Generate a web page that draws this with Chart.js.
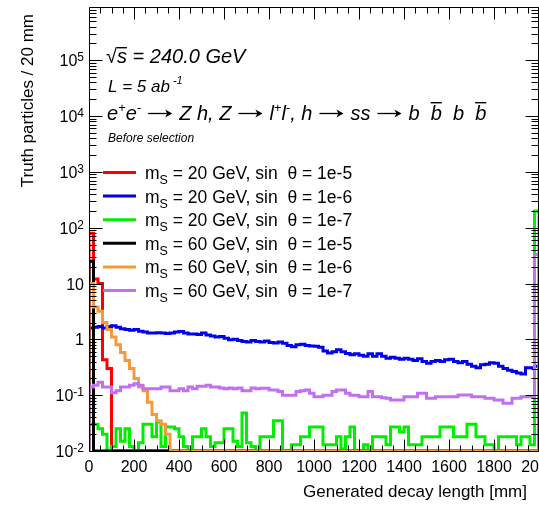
<!DOCTYPE html>
<html><head><meta charset="utf-8">
<script src="https://cdn.jsdelivr.net/npm/chart.js@4/dist/chart.umd.min.js"></script>
<style>html,body{margin:0;padding:0;background:#fff;overflow:hidden}#wrap{width:539px;height:505px;position:relative}</style>
</head><body><div id="wrap"><canvas id="c" width="539" height="505"></canvas></div>
<script>
// ---------- data ----------
const binWidthMM = 20;
const xRange = [0, 2000];
const yRange = [0.01, 9e5];
const xMajorStep = 200, xMinorStep = 50;
const xTickValues = [0,200,400,600,800,1000,1200,1400,1600,1800,2000];
const xTickLabels = ['0','200','400','600','800','1000','1200','1400','1600','1800','2000'];
const yTickValues = [1e-2,1e-1,1,10,1e2,1e3,1e4,1e5];
const yTickBases  = ['10','10','1','10','10','10','10','10'];
const yTickExps   = ['-2','-1','','','2','3','4','5'];
const xTitle = 'Generated decay length [mm]';
const yTitle = 'Truth particles / 20 mm';

const seriesMassGeV = [20, 20, 20, 60, 60, 60];
const seriesSinTheta = ['1e-5', '1e-6', '1e-7', '1e-5', '1e-6', '1e-7'];
const seriesColors = ['#ff0000', '#0000ee', '#00ee00', '#000000', '#f7993a', '#c070f0'];

// 100 bins of 20 mm (0 = empty bin)
const m20_s1e5 = [
 80,12,10,0.43,0.3,0,0,0,0,0,
 0,0,0,0,0,0,0,0,0,0, 0,0,0,0,0,0,0,0,0,0,
 0,0,0,0,0,0,0,0,0,0, 0,0,0,0,0,0,0,0,0,0,
 0,0,0,0,0,0,0,0,0,0, 0,0,0,0,0,0,0,0,0,0,
 0,0,0,0,0,0,0,0,0,0, 0,0,0,0,0,0,0,0,0,0,
 0,0,0,0,0,0,0,0,0,0];
const m20_s1e6 = [
 1.6,1.65,1.7,1.6,1.7,1.75,1.65,1.55,1.5,1.45,
 1.5,1.4,1.35,1.3,1.3,1.32,1.3,1.28,1.3,1.35,
 1.38,1.3,1.25,1.25,1.22,1.3,1.2,1.15,1.1,1.12,
 1.05,0.98,1.0,0.95,0.92,0.9,0.95,0.92,0.9,0.93,
 0.88,0.86,0.9,0.85,0.78,0.74,0.8,0.82,0.78,0.76,
 0.75,0.72,0.62,0.57,0.6,0.65,0.6,0.56,0.53,0.55,
 0.52,0.5,0.55,0.5,0.55,0.5,0.46,0.48,0.46,0.44,
 0.46,0.44,0.42,0.45,0.4,0.375,0.4,0.42,0.4,0.43,
 0.44,0.4,0.38,0.4,0.36,0.33,0.31,0.35,0.36,0.38,
 0.375,0.33,0.3,0.28,0.265,0.25,0.24,0.31,0.31,0.33];
const m20_s1e7 = [
 0.03,0.03,0.025,0.02,0,0.012,0.025,0.015,0.025,0.012,
 0,0.014,0.03,0.03,0.018,0.033,0.012,0.027,0.027,0.025,
 0.018,0.012,0,0.018,0.018,0.025,0.018,0.012,0.014,0.014,
 0.025,0.025,0.015,0.012,0.048,0.014,0.012,0,0.018,0.018,
 0.018,0.035,0.035,0,0,0.013,0.013,0.018,0.018,0.027,
 0.027,0.027,0.013,0.013,0.013,0.018,0.011,0.018,0.027,0,
 0,0.013,0,0.018,0.018,0.018,0.013,0.027,0.027,0.022,
 0.027,0.013,0.013,0.013,0.018,0.018,0.018,0.018,0.027,0.027,
 0.027,0.018,0.018,0.018,0.03,0.03,0.018,0.018,0.013,0.013,
 0,0.018,0.018,0.018,0.018,0.013,0.018,0.018,0.013,200];
const m60_s1e5 = [
 25,0,0,0,0,0,0,0,0,0,
 0,0,0,0,0,0,0,0,0,0, 0,0,0,0,0,0,0,0,0,0,
 0,0,0,0,0,0,0,0,0,0, 0,0,0,0,0,0,0,0,0,0,
 0,0,0,0,0,0,0,0,0,0, 0,0,0,0,0,0,0,0,0,0,
 0,0,0,0,0,0,0,0,0,0, 0,0,0,0,0,0,0,0,0,0,
 0,0,0,0,0,0,0,0,0,0];
const m60_s1e6 = [
 10,3.8,3.2,2.0,1.5,1.1,0.8,0.58,0.42,0.3,
 0.2,0.14,0.12,0.075,0.045,0.035,0.03,0.02,0,0,
 0,0,0,0,0,0,0,0,0,0, 0,0,0,0,0,0,0,0,0,0,
 0,0,0,0,0,0,0,0,0,0, 0,0,0,0,0,0,0,0,0,0,
 0,0,0,0,0,0,0,0,0,0, 0,0,0,0,0,0,0,0,0,0,
 0,0,0,0,0,0,0,0,0,0, 0,0,0,0,0,0,0,0,0,0];
const m60_s1e7 = [
 0.14,0.15,0.17,0.14,0.14,0.11,0.12,0.14,0.14,0.15,
 0.16,0.15,0.13,0.13,0.13,0.13,0.14,0.14,0.12,0.12,
 0.13,0.12,0.14,0.13,0.145,0.145,0.15,0.14,0.14,0.135,
 0.13,0.135,0.13,0.135,0.12,0.12,0.135,0.13,0.133,0.133,
 0.124,0.124,0.116,0.1,0.1,0.1,0.116,0.12,0.124,0.108,
 0.094,0.094,0.1,0.1,0.116,0.124,0.124,0.108,0.1,0.1,
 0.094,0.094,0.116,0.094,0.094,0.09,0.088,0.082,0.082,0.082,
 0.094,0.094,0.094,0.108,0.108,0.088,0.088,0.094,0.094,0.094,
 0.094,0.094,0.101,0.101,0.101,0.094,0.094,0.094,0.088,0.088,
 0.082,0.082,0.072,0.072,0.088,0.088,0.094,0.094,0.094,33];

const seriesValues = [m20_s1e5, m20_s1e6, m20_s1e7, m60_s1e5, m60_s1e6, m60_s1e7];

// ---------- build ----------
const FF = '"Liberation Sans", Arial, Helvetica, sans-serif';
function histPoints(values) {
  const floor = yRange[0];
  const pts = [{x: xRange[0], y: floor}];
  values.forEach((v, i) => pts.push({x: xRange[0] + i * binWidthMM, y: v > 0 ? v : floor}));
  const last = values[values.length - 1];
  const xEnd = xRange[0] + values.length * binWidthMM;
  pts.push({x: xEnd, y: last > 0 ? last : floor});
  pts.push({x: xEnd, y: floor});
  return pts;
}
const datasets = seriesValues.map((vals, k) => ({
  label: 'm_S = ' + seriesMassGeV[k] + ' GeV, sin θ = ' + seriesSinTheta[k],
  data: histPoints(vals),
  borderColor: seriesColors[k],
  backgroundColor: seriesColors[k],
  borderWidth: 3,
  stepped: true,
  fill: false,
  pointRadius: 0,
  tension: 0,
  borderJoinStyle: 'miter',
  borderCapStyle: 'butt',
  order: seriesValues.length - 1 - k
}));

function rich(ctx, x, y, parts) {
  for (const p of parts) {
    if (p.arrow) {
      const x0 = x + p.pad, x1 = x0 + p.arrow, ay = y - 6.5;
      ctx.save();
      ctx.strokeStyle = '#000'; ctx.lineWidth = 1.3;
      ctx.beginPath(); ctx.moveTo(x0, ay); ctx.lineTo(x1 - 1, ay); ctx.stroke();
      ctx.beginPath(); ctx.moveTo(x1, ay); ctx.lineTo(x1 - 7, ay - 4); ctx.lineTo(x1 - 5, ay); ctx.lineTo(x1 - 7, ay + 4); ctx.closePath(); ctx.fill();
      ctx.restore();
      x = x1 + p.pad;
      continue;
    }
    ctx.font = p.f;
    const w = ctx.measureText(p.t).width;
    ctx.fillText(p.t, x, y + (p.dy || 0));
    if (p.bar) ctx.fillRect(x + (p.b0 || 0), y - p.bar, w - (p.b0 || 0) - (p.b1 || 0), 1.4);
    x += w + (p.gap || 0);
  }
  return x;
}

const rootPlugin = {
  id: 'rootStyle',
  beforeDraw(chart) {
    const c = chart.ctx; c.save(); c.fillStyle = '#fff'; c.fillRect(0, 0, chart.width, chart.height); c.restore();
  },
  afterDatasetsDraw(chart) {
    const {ctx, chartArea: a, scales: {x, y}} = chart;
    ctx.save();
    ctx.strokeStyle = '#000'; ctx.lineWidth = 1;
    ctx.beginPath();
    const L = Math.round(a.left) + 0.5, R = Math.round(a.right) - 0.5, T = Math.round(a.top) + 0.5, B = Math.round(a.bottom) + 0.5;
    ctx.rect(L, T, R - L, B - T);
    for (let v = xRange[0]; v <= xRange[1]; v += xMinorStep) {
      const px = Math.round(x.getPixelForValue(v)) + 0.5;
      const len = v % xMajorStep === 0 ? 12 : 6;
      ctx.moveTo(px, B); ctx.lineTo(px, B - len);
      ctx.moveTo(px, T); ctx.lineTo(px, T + len);
    }
    for (let e = -2; e <= 6; e++) for (let m = 1; m <= 9; m++) {
      const v = m * Math.pow(10, e);
      if (v < yRange[0] || v > yRange[1]) continue;
      const py = Math.round(y.getPixelForValue(v)) + 0.5;
      const len = m === 1 ? 13 : 7;
      ctx.moveTo(L, py); ctx.lineTo(L + len, py);
      ctx.moveTo(R, py); ctx.lineTo(R - len, py);
    }
    ctx.stroke();
    ctx.restore();
  },
  afterDraw(chart) {
    const {ctx, chartArea: a, scales: {x, y}} = chart;
    ctx.save();
    ctx.fillStyle = '#000';
    // x tick labels
    ctx.font = '16px ' + FF; ctx.textAlign = 'center'; ctx.textBaseline = 'alphabetic';
    xTickValues.forEach((v, i) => ctx.fillText(xTickLabels[i], x.getPixelForValue(v), 472));
    // y tick labels
    ctx.textAlign = 'left';
    yTickValues.forEach((v, i) => {
      const py = y.getPixelForValue(v);
      ctx.font = '12px ' + FF; const ew = yTickExps[i] ? ctx.measureText(yTickExps[i]).width : 0;
      ctx.font = '16px ' + FF; const bw = ctx.measureText(yTickBases[i]).width;
      const x0 = 84 - ew - bw;
      ctx.fillText(yTickBases[i], x0, py + 6);
      if (yTickExps[i]) { ctx.font = '12px ' + FF; ctx.fillText(yTickExps[i], x0 + bw, py + 1); }
    });
    // axis titles
    ctx.font = '17px ' + FF;
    ctx.textAlign = 'right';
    ctx.fillText(xTitle, 527, 497);
    ctx.save(); ctx.translate(28, 14); ctx.rotate(-Math.PI / 2);
    ctx.textBaseline = 'middle'; ctx.fillText(yTitle, 0, 0); ctx.restore();
    // annotations
    ctx.textAlign = 'left'; ctx.textBaseline = 'alphabetic';
    const I20 = 'italic 20px ' + FF, R20 = '20px ' + FF, S13 = 'italic 13px ' + FF;
    const ARROW = {arrow: 24, pad: 7};
    rich(ctx, 106, 63, [
      {t: '√', f: R20},
      {t: 's', f: I20, bar: 16},
      {t: ' = 240.0 GeV', f: I20}
    ]);
    rich(ctx, 108, 92, [
      {t: 'L = 5 ab', f: 'italic 17px ' + FF, gap: 3},
      {t: '-1', f: 'italic 11px ' + FF, dy: -8}
    ]);
    rich(ctx, 107, 120, [
      {t: 'e', f: I20}, {t: '+', f: S13, dy: -8},
      {t: 'e', f: I20}, {t: '-', f: S13, dy: -8},
      ARROW,
      {t: 'Z h, Z', f: I20},
      ARROW,
      {t: 'l', f: I20}, {t: '+', f: S13, dy: -8},
      {t: 'l', f: I20}, {t: '-', f: S13, dy: -8},
      {t: ', h', f: I20},
      ARROW,
      {t: 'ss', f: I20},
      ARROW,
      {t: 'b  ', f: I20},
      {t: 'b', f: I20, bar: 18},
      {t: '  b  ', f: I20},
      {t: 'b', f: I20, bar: 18}
    ]);
    ctx.font = 'italic 12px ' + FF;
    ctx.fillText('Before selection', 108, 142);
    // legend
    seriesValues.forEach((vals, k) => {
      const cy = 172.5 + k * 23.6;
      ctx.strokeStyle = seriesColors[k]; ctx.lineWidth = 3;
      ctx.beginPath(); ctx.moveTo(103, cy); ctx.lineTo(136, cy); ctx.stroke();
      ctx.fillStyle = '#000';
      rich(ctx, 145, cy + 6.5, [
        {t: 'm', f: '17.5px ' + FF},
        {t: 'S', f: '12.5px ' + FF, dy: 5},
        {t: ' = ' + seriesMassGeV[k] + ' GeV, sin  θ = ' + seriesSinTheta[k], f: '17.5px ' + FF}
      ]);
    });
    ctx.restore();
  }
};

new Chart(document.getElementById('c').getContext('2d'), {
  type: 'line',
  data: { datasets },
  options: {
    responsive: false, animation: false, devicePixelRatio: 1,
    layout: { padding: { left: 89, right: 0, top: 7, bottom: 54 } },
    plugins: { legend: { display: false }, tooltip: { enabled: false } },
    elements: { point: { radius: 0 } },
    scales: {
      x: { type: 'linear', min: xRange[0], max: xRange[1], display: false },
      y: { type: 'logarithmic', min: yRange[0], max: yRange[1], display: false }
    }
  },
  plugins: [rootPlugin]
});
</script>
</body></html>
